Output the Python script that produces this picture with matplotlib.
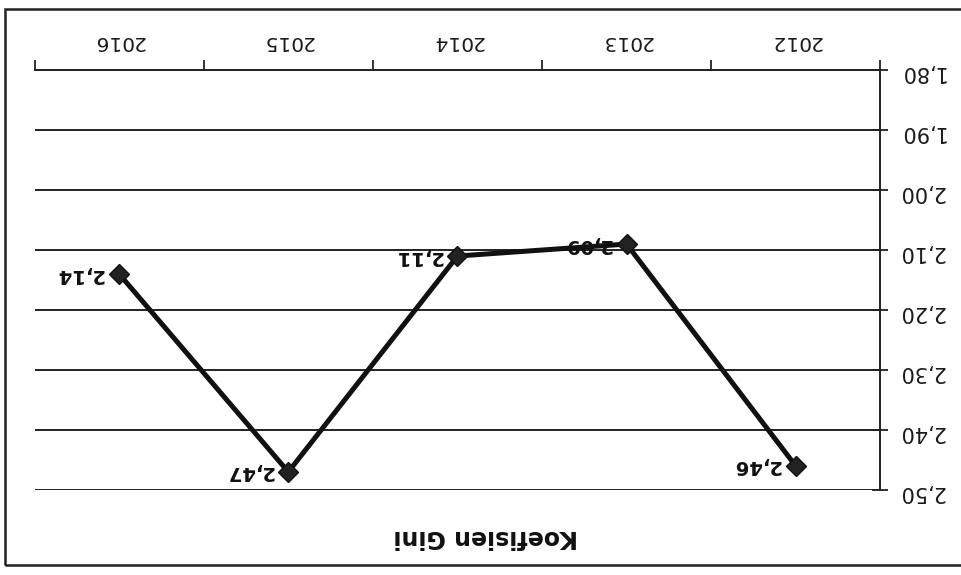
import matplotlib.pyplot as plt
from matplotlib.patches import Rectangle

# chart is scanned upside down, so everything is drawn rotated by 180 degrees
years = ['2012', '2013', '2014', '2015', '2016']
gini = [2.46, 2.09, 2.11, 2.47, 2.14]
gini_labels = ['2,46', '2,09', '2,11', '2,47', '2,14']
yticks = [1.8, 1.9, 2.0, 2.1, 2.2, 2.3, 2.4, 2.5]
ytick_labels = ['1,80', '1,90', '2,00', '2,10', '2,20', '2,30', '2,40', '2,50']
title = 'Koefisien Gini'

fig = plt.figure(figsize=(9.62, 5.75), dpi=100)
ax = fig.add_axes([0.036, 0.148, 0.879, 0.730])

x = list(range(len(years)))
ax.plot(x, gini, color='#111111', lw=3.6, marker='D', ms=10,
        mfc='#222222', mec='#111111', zorder=3)

for xi, v, lab in zip(x, gini, gini_labels):
    ax.annotate(lab, (xi, v), xytext=(-11, 0), textcoords='offset points',
                ha='right', va='center', rotation=180,
                fontsize=14, fontweight='bold', color='#111111')

# inverted axes -> 180 degree rotation
ax.set_xlim(len(years) - 0.5, -0.5)
ax.set_ylim(2.5, 1.8)

ax.xaxis.tick_top()
ax.set_xticks(x)
ax.set_xticklabels(years, rotation=180, fontsize=14.5, color='#1a1a1a')
ax.set_xticks([i - 0.5 for i in range(len(years) + 1)], minor=True)
ax.tick_params(axis='x', which='major', length=0, pad=14)
ax.tick_params(axis='x', which='minor', length=7, width=1.3, color='#222222',
               direction='out')

ax.yaxis.tick_right()
ax.set_yticks(yticks)
ax.set_yticklabels(ytick_labels, rotation=180, fontsize=15, color='#1a1a1a')
ax.tick_params(axis='y', length=12, width=1.3, color='#222222',
               direction='inout', pad=7)
ax.grid(axis='y', color='#222222', lw=1.4)
ax.set_axisbelow(True)

for s in ['left', 'bottom']:
    ax.spines[s].set_visible(False)
for s in ['top', 'right']:
    ax.spines[s].set_color('#222222')
    ax.spines[s].set_linewidth(1.4)

fig.text(0.505, 0.066, title, rotation=180, ha='center', va='center',
         fontsize=17, fontweight='bold', color='#111111')

# outer chart border (right edge falls outside the scan)
fig.patches.append(Rectangle((0.005, 0.017), 1.05, 0.967, transform=fig.transFigure,
                             fill=False, ec='#222222', lw=1.8))

fig.savefig('out.png', dpi=100, facecolor='white')
